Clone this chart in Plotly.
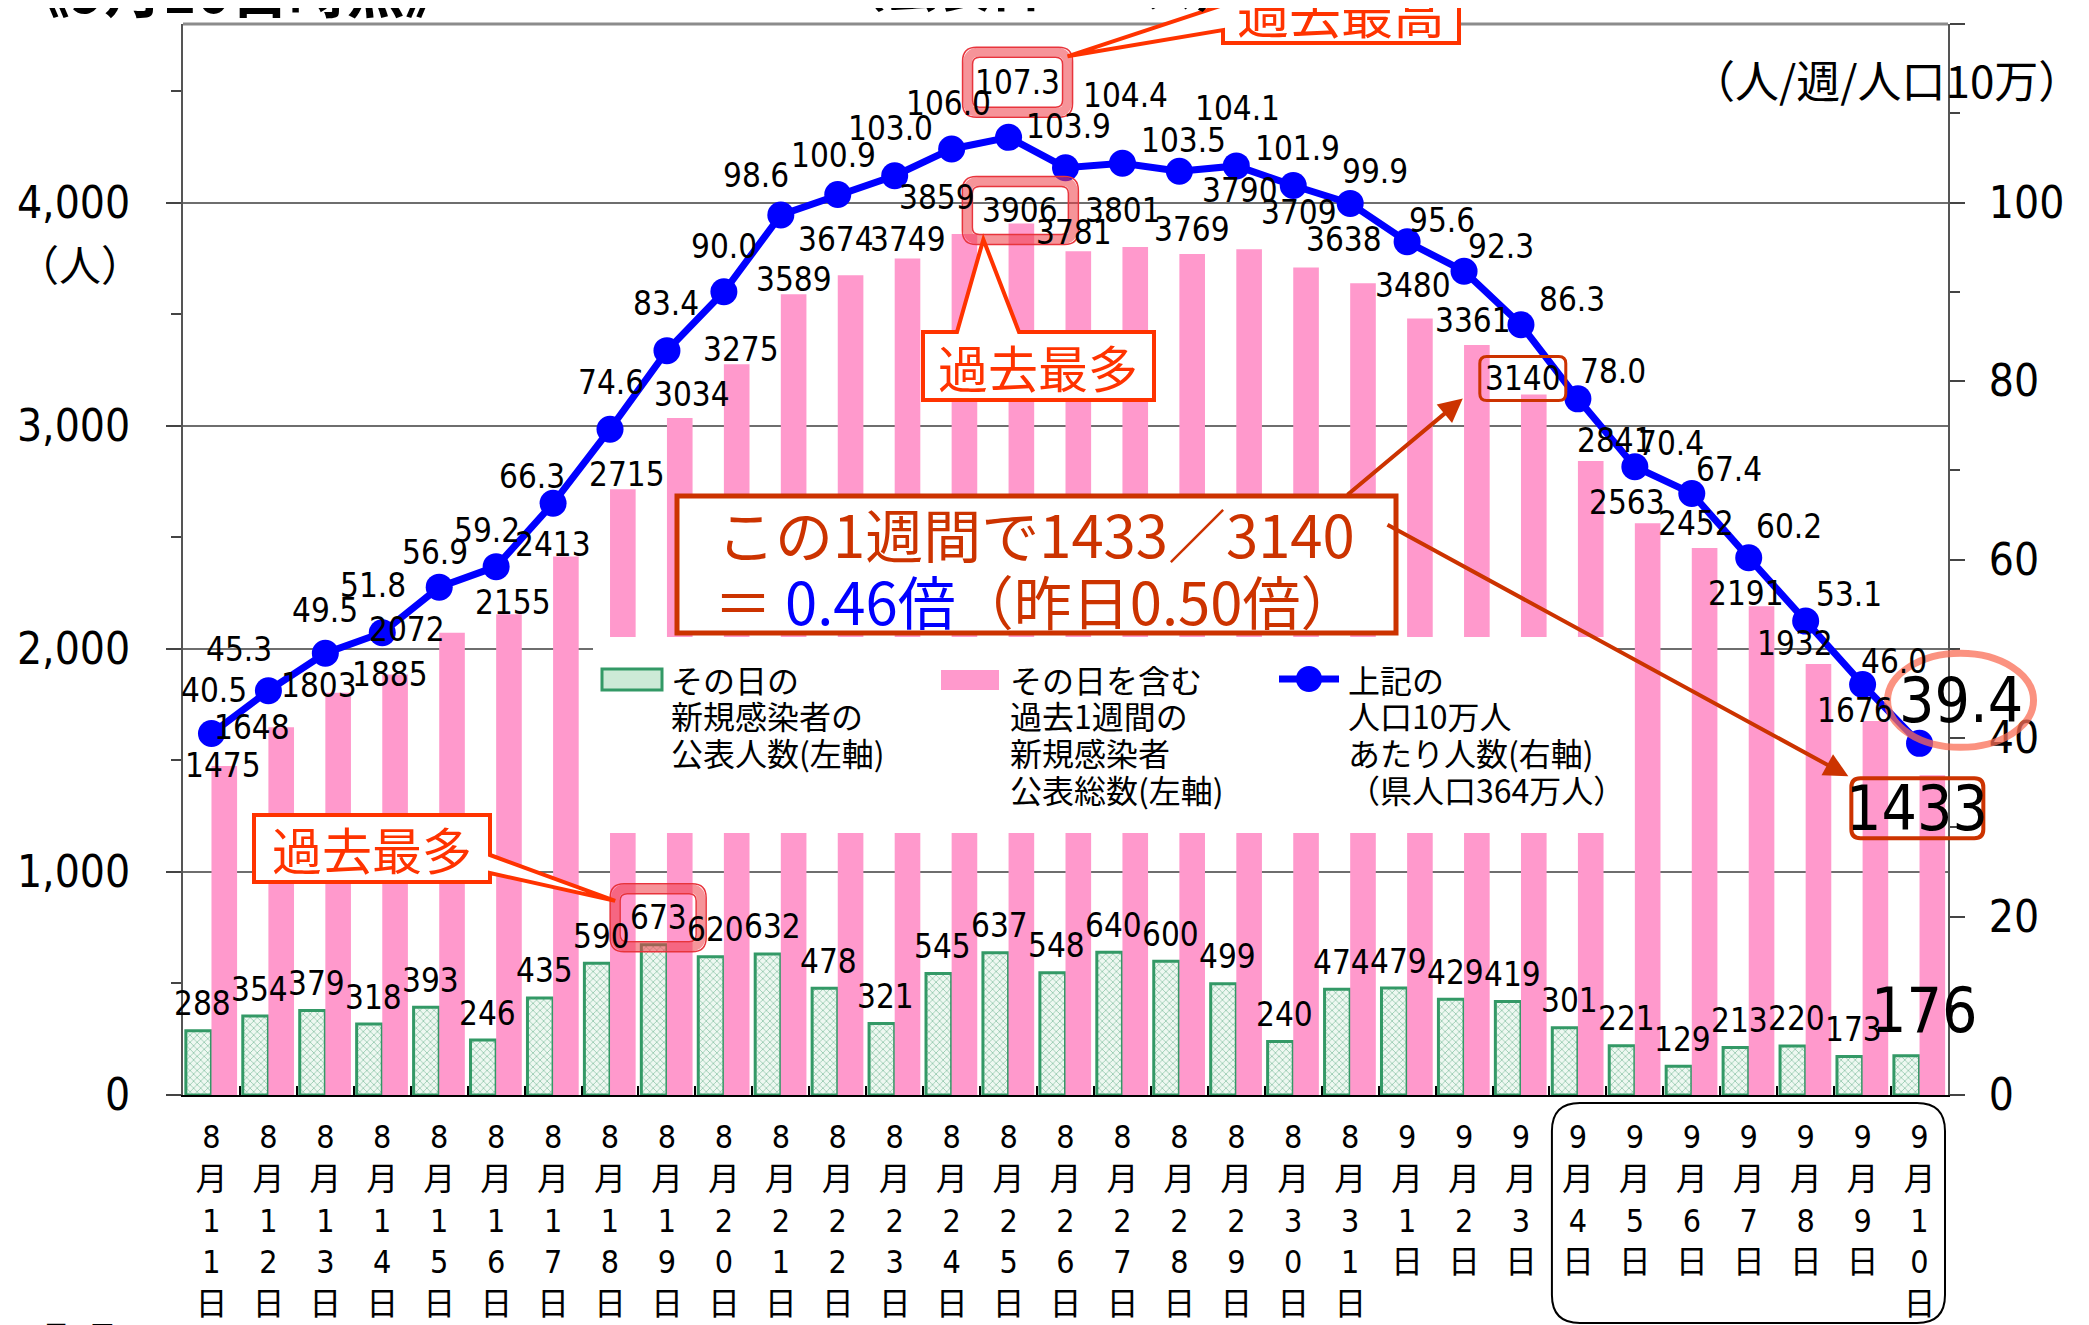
import plotly.graph_objects as go

# ---------------- data ----------------
DATES = ["8月11日", "8月12日", "8月13日", "8月14日", "8月15日", "8月16日", "8月17日",
         "8月18日", "8月19日", "8月20日", "8月21日", "8月22日", "8月23日", "8月24日",
         "8月25日", "8月26日", "8月27日", "8月28日", "8月29日", "8月30日", "8月31日",
         "9月1日", "9月2日", "9月3日", "9月4日", "9月5日", "9月6日", "9月7日",
         "9月8日", "9月9日", "9月10日"]
DAILY = [288, 354, 379, 318, 393, 246, 435, 590, 673, 620, 632, 478, 321, 545, 637, 548,
         640, 600, 499, 240, 474, 479, 429, 419, 301, 221, 129, 213, 220, 173, 176]
WEEKLY = [1475, 1648, 1803, 1885, 2072, 2155, 2413, 2715, 3034, 3275, 3589, 3674, 3749,
          3859, 3906, 3781, 3801, 3769, 3790, 3709, 3638, 3480, 3361, 3140, 2841, 2563,
          2452, 2191, 1932, 1676, 1433]
PER100K = [40.5, 45.3, 49.5, 51.8, 56.9, 59.2, 66.3, 74.6, 83.4, 90.0, 98.6, 100.9, 103.0,
           106.0, 107.3, 103.9, 104.4, 103.5, 104.1, 101.9, 99.9, 95.6, 92.3, 86.3, 78.0,
           70.4, 67.4, 60.2, 53.1, 46.0, 39.4]
LEFT_TICKS = [0, 1000, 2000, 3000, 4000]
LEFT_TICK_TEXT = ["0", "1,000", "2,000", "3,000", "4,000"]
RIGHT_TICKS = [0, 20, 40, 60, 80, 100, 120]
LEGEND_GREEN = ["その日の", "新規感染者の", "公表人数(左軸)"]
LEGEND_PINK = ["その日を含む", "過去1週間の", "新規感染者", "公表総数(左軸)"]
LEGEND_BLUE = ["上記の", "人口10万人", "あたり人数(右軸)", "（県人口364万人）"]

# ---------------- label nudges (pixels, style only) ----------------
LINE_LBL_DX = [3, -29, 0, -9, -4, -9, -21, 1, -1, 0, -25, -4, -4, -3, 9, 3, 3, 4, 1, 4,
               25, 35, 37, 51, 35, 36, 37, 40, 43, 31, 41]
LINE_LBL_DY = [43, 41, 43, 47, 35, 36, 27, 47, 47, 45, 40, 39, 47, 45, 55, 41, 68, 31, 57,
               37, 32, 21, 25, 25, 27, 23, 24, 31, 27, 23, 43]
WEEK_LBL_DX = [-1, -29, -19, -5, -45, 4, -13, 4, 12, 4, 0, -15, 0, -27, -1, -4, -12, 0, -9,
               -7, -19, -7, -4, -11, 24, -21, -9, -16, -23, -20, -15]
WEEK_LBL_DY = [0, 0, 7, 0, 3, 12, 12, 15, 24, 15, 15, 36, 19, 36, 13, 19, 36, 25, 59, 55,
               44, 33, 25, 16, 21, 21, 24, 13, 20, 11, -33]

# ---------------- geometry (page pixels) ----------------
PAGE_W, PAGE_H = 2089, 1325
BODY = 8                       # default page margin around the plot div
W, H = PAGE_W - BODY, PAGE_H - BODY
L, R, T, B = 183, 1948, 24, 1095
PW, PH = R - L, B - T
N = len(DATES)
X = list(range(N))
Y1MAX, Y2MAX = 4800, 120
BAR_OFF = 0.225

NUM_FONT = "Liberation Sans Narrow, Arial Narrow, DejaVu Sans Condensed, Noto Sans CJK JP, sans-serif"
JP_FONT = "Noto Sans CJK JP, sans-serif"
RED = "#FF3300"
DRED = "#CC3300"


def xp(px):
    return (px - L) / PW


def yp(py):
    return (B - py) / PH


def cx_px(i):
    return L + (i + 0.5) * PW / N


def y1_px(v):
    return B - v / Y1MAX * PH


def y2_px(v):
    return B - v / Y2MAX * PH


def P(x, y):
    return f"{xp(x):.5f},{yp(y):.5f}"


def rrect(x0, y0, x1, y1, r):
    return (f"M{P(x0 + r, y0)} L{P(x1 - r, y0)} Q{P(x1, y0)} {P(x1, y0 + r)} "
            f"L{P(x1, y1 - r)} Q{P(x1, y1)} {P(x1 - r, y1)} L{P(x0 + r, y1)} "
            f"Q{P(x0, y1)} {P(x0, y1 - r)} L{P(x0, y0 + r)} Q{P(x0, y0)} {P(x0 + r, y0)} Z")


def poly(points):
    return "M" + " L".join(P(a, b) for a, b in points) + " Z"


shapes = []
annotations = []


def add_text(xpx, ypx, text, size, color="black", family=JP_FONT, xanchor="center", yanchor="middle"):
    annotations.append(dict(x=xp(xpx), y=yp(ypx), xref="paper", yref="paper", text=text,
                            showarrow=False, xanchor=xanchor, yanchor=yanchor,
                            font=dict(size=size, color=color, family=family)))


def highlight(cx, cy, hw, hh):
    shapes.append(dict(type="path", xref="paper", yref="paper",
                       path=rrect(cx - hw, cy - hh, cx + hw, cy + hh, 11),
                       line=dict(color="rgba(238,60,70,0.55)", width=9), layer="above"))
    shapes.append(dict(type="path", xref="paper", yref="paper",
                       path=rrect(cx - hw - 5, cy - hh - 5, cx + hw + 5, cy + hh + 5, 14),
                       line=dict(color="#E8343C", width=1.5), layer="above"))
    shapes.append(dict(type="path", xref="paper", yref="paper",
                       path=rrect(cx - hw + 5, cy - hh + 5, cx + hw - 5, cy + hh - 5, 7),
                       line=dict(color="#E8343C", width=1.5), layer="above"))


# ---------------- traces ----------------
fig = go.Figure()
fig.add_trace(go.Bar(
    x=X, y=DAILY, name="その日の新規感染者の公表人数(左軸)", offsetgroup="daily",
    marker=dict(color="#DDF0E3", line=dict(color="#339966", width=3),
                pattern=dict(shape="x", fgcolor="#3A9A6B", bgcolor="#EEF8F1", size=5, solidity=0.3)),
    hoverinfo="skip"))
fig.add_trace(go.Bar(
    x=X, y=WEEKLY, name="その日を含む過去1週間の新規感染者公表総数(左軸)", offsetgroup="weekly",
    marker=dict(color="#FF99CC", line=dict(width=0)), hoverinfo="skip"))
fig.add_trace(go.Scatter(
    x=X, y=PER100K, yaxis="y2", name="上記の人口10万人あたり人数(右軸)",
    mode="lines+markers", line=dict(color="#0000FF", width=7),
    marker=dict(size=27, color="#0000FF"), cliponaxis=False, hoverinfo="skip"))

# ---------------- value labels ----------------
for i in X:
    last = i == N - 1
    annotations.append(dict(x=i - BAR_OFF, y=DAILY[i], xref="x", yref="y", text=str(DAILY[i]),
                            showarrow=False, xshift=17 if last else 4, yshift=45 if last else 27,
                            font=dict(size=62 if last else 33, family=NUM_FONT, color="black")))
    annotations.append(dict(x=i + BAR_OFF, y=WEEKLY[i], xref="x", yref="y", text=str(WEEKLY[i]),
                            showarrow=False, xshift=WEEK_LBL_DX[i], yshift=WEEK_LBL_DY[i],
                            font=dict(size=62 if last else 33, family=NUM_FONT, color="black")))
    annotations.append(dict(x=i, y=PER100K[i], xref="x", yref="y2", text=f"{PER100K[i]:.1f}",
                            showarrow=False, xshift=LINE_LBL_DX[i], yshift=LINE_LBL_DY[i],
                            font=dict(size=62 if last else 33, family=NUM_FONT, color="black")))

bw = PW / N
lab107 = (cx_px(14) + LINE_LBL_DX[14], y2_px(PER100K[14]) - LINE_LBL_DY[14])
lab3906 = (cx_px(14) + BAR_OFF * bw + WEEK_LBL_DX[14], y1_px(WEEKLY[14]) - WEEK_LBL_DY[14])
lab673 = (cx_px(8) - BAR_OFF * bw + 4, y1_px(DAILY[8]) - 27)
lab3140 = (cx_px(23) + BAR_OFF * bw + WEEK_LBL_DX[23], y1_px(WEEKLY[23]) - WEEK_LBL_DY[23])
lab1433 = (cx_px(N - 1) + BAR_OFF * bw + WEEK_LBL_DX[N - 1], y1_px(WEEKLY[N - 1]) - WEEK_LBL_DY[N - 1])
lab394 = (cx_px(N - 1) + LINE_LBL_DX[N - 1], y2_px(PER100K[N - 1]) - LINE_LBL_DY[N - 1])

# ---------------- decorations ----------------
shapes.append(dict(type="line", xref="paper", yref="paper", x0=0, x1=1, y0=1, y1=1,
                   line=dict(color="#8C8C8C", width=3), layer="above"))

# legend panel
shapes.append(dict(type="rect", xref="paper", yref="paper", x0=xp(593), x1=xp(1615),
                   y0=yp(833), y1=yp(637), fillcolor="white", line=dict(width=0), layer="above"))
shapes.append(dict(type="rect", xref="paper", yref="paper", x0=xp(602), x1=xp(662),
                   y0=yp(690), y1=yp(669), fillcolor="#CDEAD7",
                   line=dict(color="#339966", width=3), layer="above"))
shapes.append(dict(type="rect", xref="paper", yref="paper", x0=xp(941), x1=xp(999),
                   y0=yp(690), y1=yp(670), fillcolor="#FF99CC", line=dict(width=0), layer="above"))
shapes.append(dict(type="line", xref="paper", yref="paper", x0=xp(1279), x1=xp(1339),
                   y0=yp(679), y1=yp(679), line=dict(color="#0000FF", width=7), layer="above"))
shapes.append(dict(type="circle", xref="paper", yref="paper", x0=xp(1296), x1=xp(1322),
                   y0=yp(692), y1=yp(666), fillcolor="#0000FF", line=dict(width=0), layer="above"))
for items, xleft in ((LEGEND_GREEN, 669), (LEGEND_PINK, 1008), (LEGEND_BLUE, 1346)):
    for j, line_txt in enumerate(items):
        add_text(xleft, 679 + 36.5 * j, line_txt, 32, xanchor="left")

# big summary box
shapes.append(dict(type="rect", xref="paper", yref="paper", x0=xp(677), x1=xp(1396),
                   y0=yp(633), y1=yp(496), fillcolor="white",
                   line=dict(color=DRED, width=5), layer="above"))
add_text(1036, 533, "この1週間で1433／3140", 58, color=DRED)
add_text(1036, 600, "＝ <span style='color:#0000FF'>0.46倍</span>（昨日0.50倍）", 58, color=DRED)

highlight(lab107[0], lab107[1], 50, 30)
highlight(lab3906[0], lab3906[1], 53, 29)
highlight(lab673[0], lab673[1], 43, 29)

b3140 = (lab3140[0] - 43, lab3140[1] - 22, lab3140[0] + 43, lab3140[1] + 22)
shapes.append(dict(type="path", xref="paper", yref="paper", path=rrect(*b3140, 7),
                   line=dict(color=DRED, width=3), layer="above"))
b1433 = (lab1433[0] - 66, lab1433[1] - 30, lab1433[0] + 66, lab1433[1] + 30)
shapes.append(dict(type="path", xref="paper", yref="paper", path=rrect(*b1433, 9),
                   line=dict(color=DRED, width=4), layer="above"))

shapes.append(dict(type="circle", xref="paper", yref="paper",
                   x0=xp(lab394[0] - 73), x1=xp(lab394[0] + 73),
                   y0=yp(lab394[1] + 47), y1=yp(lab394[1] - 47),
                   line=dict(color="rgba(250,110,85,0.75)", width=7), layer="above"))

# callout "過去最高"
tip = (lab107[0] + 50, lab107[1] - 26)
shapes.append(dict(type="path", xref="paper", yref="paper",
                   path=poly([(1223, -40), (1459, -40), (1459, 43), (1223, 43), (1223, 30), tip, (1223, 5)]),
                   fillcolor="white", line=dict(color=RED, width=4), layer="above"))
add_text(1341, 11, "過去最高", 52, color=RED)

# callout "過去最多" (upper)
tip = (lab3906[0] - 37, lab3906[1] + 29)
shapes.append(dict(type="path", xref="paper", yref="paper",
                   path=poly([(923, 332), (957, 332), tip, (1019, 332), (1154, 332), (1154, 400), (923, 400)]),
                   fillcolor="white", line=dict(color=RED, width=4), layer="above"))
add_text(1038, 366, "過去最多", 50, color=RED)

# callout "過去最多" (lower)
tip = (lab673[0] - 43, lab673[1] - 17)
shapes.append(dict(type="path", xref="paper", yref="paper",
                   path=poly([(254, 815), (490, 815), (490, 855), tip, (490, 873), (490, 882), (254, 882)]),
                   fillcolor="white", line=dict(color=RED, width=4), layer="above"))
add_text(372, 848, "過去最多", 50, color=RED)

for head, tail in (((b3140[0] - 17, b3140[3] - 2), (1346, 496)),
                   ((b1433[0] - 3, b1433[1] - 2), (1386, 524))):
    annotations.append(dict(x=xp(head[0]), y=yp(head[1]), xref="paper", yref="paper", text="",
                            showarrow=True, axref="pixel", ayref="pixel",
                            ax=tail[0] - head[0], ay=tail[1] - head[1],
                            arrowhead=2, arrowsize=1.2, arrowwidth=4, arrowcolor=DRED,
                            standoff=0, startstandoff=0))

shapes.append(dict(type="path", xref="paper", yref="paper",
                   path=rrect(cx_px(24) - 26, 1103, R - 3, 1323, 28),
                   line=dict(color="black", width=2), layer="above"))

add_text(237, -12, "<b>《9月10日時点》</b>", 58)
add_text(1040, -15, "<b>（公表日ベース）</b>", 52)
add_text(80, 262, "（人）", 42)
add_text(1886, 79, "（人/週/人口10万）", 44)
add_text(22, 1310, "8月8日", 30, xanchor="left", yanchor="top")

# ---------------- layout ----------------
fig.update_layout(
    width=W, height=H,
    margin=dict(l=L - BODY, r=W - (R - BODY), t=T - BODY, b=H - (B - BODY), pad=0, autoexpand=False),
    paper_bgcolor="white", plot_bgcolor="white",
    barmode="group", bargap=0.1, bargroupgap=0,
    showlegend=False,
    font=dict(family=NUM_FONT, color="black"),
    xaxis=dict(range=[-0.5, N - 0.5], tickmode="array", tickvals=X,
               ticktext=["<br>".join(list(d)) for d in DATES], automargin=False,
               ticks="", tickfont=dict(size=32, family=NUM_FONT, color="black"),
               showline=True, linecolor="black", linewidth=2, showgrid=False, zeroline=False,
               ticklabelstandoff=13,
               minor=dict(tickmode="array", tickvals=[i + 0.5 for i in X[:-1]], ticks="inside",
                          ticklen=9, tickwidth=1.5, tickcolor="black", showgrid=False)),
    yaxis=dict(range=[0, Y1MAX], tickmode="array", tickvals=LEFT_TICKS, ticktext=LEFT_TICK_TEXT,
               automargin=False,
               ticks="outside", ticklen=15, tickwidth=1.5, tickcolor="#444",
               tickfont=dict(size=44, family=NUM_FONT, color="black"),
               showline=True, linecolor="#555", linewidth=2,
               showgrid=True, gridcolor="#6E6E6E", gridwidth=1.5, zeroline=False,
               ticklabelstandoff=27,
               minor=dict(tickmode="array", tickvals=[v + 500 for v in LEFT_TICKS], ticks="outside",
                          ticklen=10, tickwidth=1.5, tickcolor="#444", showgrid=False)),
    yaxis2=dict(range=[0, Y2MAX], overlaying="y", side="right", anchor="x", automargin=False,
                tickmode="array", tickvals=RIGHT_TICKS,
                ticks="outside", ticklen=15, tickwidth=1.5, tickcolor="#444",
                tickfont=dict(size=44, family=NUM_FONT, color="black"),
                showline=True, linecolor="#555", linewidth=2, showgrid=False, zeroline=False,
                ticklabelstandoff=15,
                minor=dict(tickmode="array", tickvals=[v + 10 for v in RIGHT_TICKS[:-1]],
                           ticks="outside", ticklen=10, tickwidth=1.5, tickcolor="#444",
                           showgrid=False)),
    shapes=shapes,
    annotations=annotations,
)

fig.write_html("out.html")
